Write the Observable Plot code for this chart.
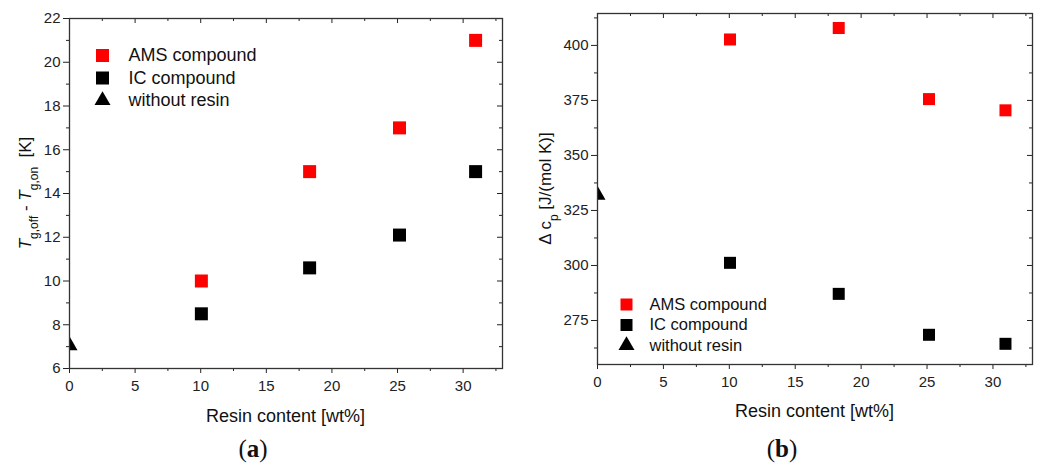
<!DOCTYPE html>
<html>
<head>
<meta charset="utf-8">
<script src="https://cdn.jsdelivr.net/npm/d3@7"></script>
<script src="https://cdn.jsdelivr.net/npm/@observablehq/plot@0.6"></script>
<style>
  html, body { margin: 0; padding: 0; background: #fff; }
  #root { position: relative; width: 1044px; height: 468px; overflow: hidden; font-family: "Liberation Sans", Arial, sans-serif; color: #222; }
  .panel { position: absolute; top: 0; }
  .cap { position: absolute; top: 435px; font-family: "Liberation Serif", "DejaVu Serif", serif; font-size: 25px; color: #111; transform: translateX(-50%); }
  .cap b { font-weight: bold; }
</style>
</head>
<body>
<div id="root">
  <div id="pa" class="panel" style="left:0"></div>
  <div id="pb" class="panel" style="left:522px"></div>
  <div class="cap" style="left:253px">(<b>a</b>)</div>
  <div class="cap" style="left:782px">(<b>b</b>)</div>
</div>
<script>
// ---- data ----
const resinContent = [10.05, 18.3, 25.15, 30.95];
const amsTg = [10, 15, 17, 21];
const icTg = [8.5, 10.6, 12.1, 15];
const baseTg = [7.05];
const amsCp = [402.7, 407.9, 375.6, 370.5];
const icCp = [301.2, 287.1, 268.5, 264.4];
const baseCp = [332];
const baseResin = [0];

const xTicks = [0, 5, 10, 15, 20, 25, 30];
const xMinor = [2.5, 7.5, 12.5, 17.5, 22.5, 27.5, 32.5];
const yTicksA = [6, 8, 10, 12, 14, 16, 18, 20, 22];
const yMinorA = [7, 9, 11, 13, 15, 17, 19, 21];
const yTicksB = [275, 300, 325, 350, 375, 400];
const yMinorB = [262.5, 287.5, 312.5, 337.5, 362.5, 387.5, 412.5];
const seriesNames = ["AMS compound", "IC compound", "without resin"];
const xLabel = "Resin content [wt%]";

function build(cfg, host) {
  const {width, height, ml, mr, mt, mb, yDomain, yTicks, yMinor, ams, ic, base,
         legendDx, legendTextDx, legendDy, legendStep, legendFont, sq, yLabel, yLabelX, xLabelY} = cfg;
  const innerW = width - ml - mr, innerH = height - mt - mb;
  const ink = "#222";
  const pts = [];
  resinContent.forEach((x, i) => pts.push({x, y: ams[i], s: 0}));
  resinContent.forEach((x, i) => pts.push({x, y: ic[i], s: 1}));
  const tri = baseResin.map((x, i) => ({x, y: base[i]}));
  const rSq = sq / Math.sqrt(Math.PI);
  const rTri = Math.sqrt((Math.sqrt(3) / 4) * 16 * 16 / Math.PI);
  const marks = [
    Plot.axisX(xTicks, {tickSize: 5, tickPadding: 7, fontSize: 15, label: null, stroke: ink}),
    Plot.axisX(xMinor, {tickSize: 3, tickFormat: () => "", label: null, stroke: ink}),
    Plot.axisY(yTicks, {tickSize: 6, tickPadding: 3, fontSize: 15, label: null, stroke: ink}),
    Plot.axisY(yMinor, {tickSize: 3, tickFormat: () => "", label: null, stroke: ink}),
    Plot.tickX(xTicks, {x: d => d, insetBottom: innerH - 5, stroke: ink}),
    Plot.tickX(xMinor, {x: d => d, insetBottom: innerH - 3, stroke: ink}),
    Plot.tickY(yTicks, {y: d => d, insetLeft: innerW - 5, stroke: ink}),
    Plot.tickY(yMinor, {y: d => d, insetLeft: innerW - 3, stroke: ink}),
    Plot.dot(pts, {x: "x", y: "y", symbol: "square", r: rSq, fill: d => d.s === 0 ? "#ff0000" : "#000"}),
    Plot.dot(tri, {x: "x", y: "y", symbol: "triangle", r: rTri, fill: "#000", clip: true}),
    Plot.frame({stroke: "#333", strokeWidth: 1.3})
  ];
  seriesNames.forEach((name, i) => {
    const dy = legendDy + i * legendStep;
    marks.push(Plot.dot([name], {frameAnchor: "top-left", dx: legendDx, dy,
      symbol: i === 2 ? "triangle" : "square", r: i === 2 ? rTri : rSq,
      fill: i === 0 ? "#ff0000" : "#000"}));
    marks.push(Plot.text([name], {frameAnchor: "top-left", dx: legendTextDx, dy, text: d => d,
      textAnchor: "start", lineAnchor: "middle", fontSize: legendFont, fill: "#111"}));
  });
  const chart = Plot.plot({
    width, height,
    marginLeft: ml, marginRight: mr, marginTop: mt, marginBottom: mb,
    style: {fontFamily: "Liberation Sans, Arial, sans-serif", color: ink, background: "white", overflow: "visible"},
    x: {domain: [0, 33]},
    y: {domain: yDomain},
    marks
  });
  const svg = d3.select(chart);
  svg.append("text")
    .attr("x", ml + innerW / 2).attr("y", xLabelY)
    .attr("text-anchor", "middle")
    .attr("font-size", 18).attr("fill", "#111")
    .attr("font-family", "Liberation Sans, Arial, sans-serif")
    .text(xLabel);
  const t = svg.append("text")
    .attr("transform", `translate(${yLabelX},${mt + innerH / 2}) rotate(-90)`)
    .attr("text-anchor", "middle")
    .attr("font-size", 17).attr("fill", "#111")
    .attr("font-family", "Liberation Sans, Arial, sans-serif");
  yLabel.forEach(p => {
    const ts = t.append("tspan").text(p.t);
    if (p.i) ts.attr("font-style", "italic");
    if (p.sub) ts.attr("font-size", 12).attr("baseline-shift", "sub");
  });
  host.appendChild(chart);
}

build({
  width: 522, height: 430, ml: 69, mr: 20, mt: 18, mb: 62,
  yDomain: [6, 22], yTicks: yTicksA, yMinor: yMinorA,
  ams: amsTg, ic: icTg, base: baseTg,
  legendDx: 33, legendTextDx: 59, legendDy: 37, legendStep: 22.5, legendFont: 18, sq: 13,
  yLabel: [{t: "T", i: true}, {t: "g,off", sub: true}, {t: " - "}, {t: "T", i: true}, {t: "g,on", sub: true}, {t: "  [K]"}],
  yLabelX: 31, xLabelY: 422
}, document.getElementById("pa"));

build({
  width: 522, height: 430, ml: 75, mr: 12, mt: 13, mb: 66,
  yDomain: [255, 414.5], yTicks: yTicksB, yMinor: yMinorB,
  ams: amsCp, ic: icCp, base: baseCp,
  legendDx: 29, legendTextDx: 52, legendDy: 291, legendStep: 20.5, legendFont: 16.5, sq: 12,
  yLabel: [{t: "Δ c"}, {t: "p", sub: true}, {t: " [J/(mol K)]"}],
  yLabelX: 29, xLabelY: 417
}, document.getElementById("pb"));
</script>
</body>
</html>
